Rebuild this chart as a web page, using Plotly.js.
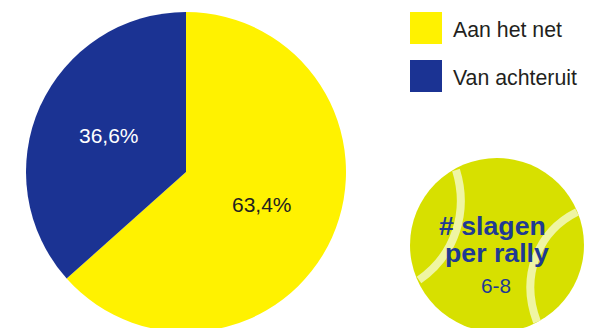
<!DOCTYPE html>
<html>
<head>
<meta charset="utf-8">
<script src="https://cdn.plot.ly/plotly-3.0.1.min.js"></script>
<style>
  html, body { margin: 0; padding: 0; width: 592px; height: 328px; overflow: hidden; background: #fff; }
  #chart { width: 592px; height: 344px; }
</style>
</head>
<body>
<div id="chart"></div>
<script>
// Share of shots by where they were played from
const categories = ['Aan het net', 'Van achteruit'];
const shares = [63.4, 36.6];
const sliceColors = ['#FFF200', '#1B3393'];

// Tennis-ball badge text
const ballTitle = ['# slagen', 'per rally'];
const ballValue = '6-8';

const W = 592, H = 344;
const FONT = 'Liberation Sans, Arial, sans-serif';
const px = x => x / W;
const py = y => 1 - y / H;
const ptPath = (x, y) => px(x).toFixed(5) + ',' + py(y).toFixed(5);
const comma = v => v.toFixed(1).replace('.', ',') + '%';

const pieTrace = {
  type: 'pie',
  values: shares,
  labels: categories,
  sort: false,
  direction: 'clockwise',
  rotation: 0,
  marker: { colors: sliceColors, line: { width: 0 } },
  textinfo: 'none',
  hoverinfo: 'label+percent',
  showlegend: false,
  domain: { x: [px(26), px(346)], y: [py(332), py(12)] }
};

const rect = (x0, y0, x1, y1, fill) => ({
  type: 'rect', xref: 'paper', yref: 'paper', layer: 'below',
  x0: px(x0), x1: px(x1), y0: py(y0), y1: py(y1),
  fillcolor: fill, line: { width: 0 }
});

const seam = d => ({
  type: 'path', xref: 'paper', yref: 'paper', layer: 'above',
  path: d, fillcolor: 'rgba(0,0,0,0)', line: { color: '#EFF5A3', width: 8 }
});

const shapes = [
  rect(410, 12, 442, 44, sliceColors[0]),
  rect(410, 60, 442, 92, sliceColors[1]),
  {
    type: 'circle', xref: 'paper', yref: 'paper', layer: 'above',
    x0: px(410), x1: px(584), y0: py(332), y1: py(158),
    fillcolor: '#D7E000', line: { width: 0 }
  },
  seam('M' + ptPath(456, 170) + ' C' + ptPath(469, 212) + ' ' + ptPath(455, 255) + ' ' + ptPath(419, 280)),
  seam('M' + ptPath(577, 212) + ' C' + ptPath(537, 232) + ' ' + ptPath(520, 277) + ' ' + ptPath(537, 322))
];

const note = (text, x, y, size, color, bold, anchor) => ({
  xref: 'paper', yref: 'paper', x: px(x), y: py(y),
  text: bold ? '<b>' + text + '</b>' : text,
  showarrow: false, xanchor: anchor || 'center', yanchor: 'middle',
  font: { family: FONT, size: size, color: color }
});

const annotations = [
  note(comma(shares[0]), 261.5, 205, 21, '#231F20'),
  note(comma(shares[1]), 108.5, 135, 21, '#FFFFFF'),
  note(categories[0], 451, 30, 21.3, '#231F20', false, 'left'),
  note(categories[1], 451, 78, 21.3, '#231F20', false, 'left'),
  note(ballTitle[0], 492.5, 226, 26.7, '#1F3A93', true),
  note(ballTitle[1], 496.5, 253, 26.7, '#1F3A93', true),
  note(ballValue, 496, 285.5, 20.8, '#1F3A93')
];

Plotly.newPlot('chart', [pieTrace], {
  width: W,
  height: H,
  margin: { l: 0, r: 0, t: 0, b: 0 },
  paper_bgcolor: '#fff',
  showlegend: false,
  shapes: shapes,
  annotations: annotations
}, { displayModeBar: false, staticPlot: true });
</script>
</body>
</html>
